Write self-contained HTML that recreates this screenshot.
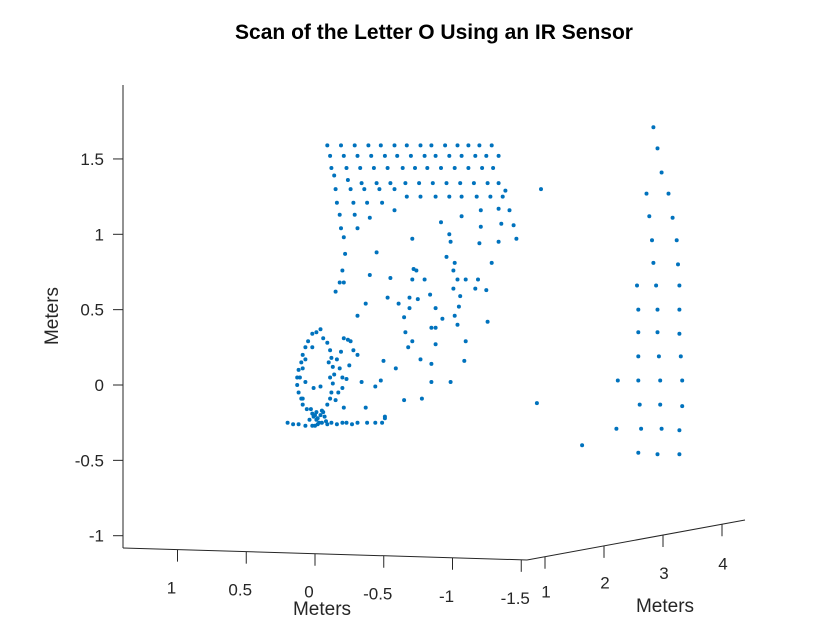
<!DOCTYPE html>
<html><head><meta charset="utf-8"><style>
html,body{margin:0;padding:0;background:#fff;}
svg{display:block;font-family:"Liberation Sans",Arial,sans-serif;}
</style></head><body>
<svg id="chart" width="840" height="630" viewBox="0 0 840 630">
<rect width="840" height="630" fill="#fff"/>
<text x="434" y="39" text-anchor="middle" font-size="21" font-weight="bold" fill="#000">Scan of the Letter O Using an IR Sensor</text>
<g id="axes" stroke="#262626" stroke-width="1" fill="none">
<line x1="123" y1="85" x2="123" y2="548"/>
<line x1="123" y1="548" x2="527" y2="560"/>
<line x1="527" y1="560" x2="745" y2="520"/>
</g>
<g id="ticks"></g>
<g id="points"></g>
<text x="322" y="615" text-anchor="middle" font-size="19" fill="#262626">Meters</text>
<text x="665" y="612" text-anchor="middle" font-size="19" fill="#262626">Meters</text>
<text transform="translate(58,316) rotate(-90)" text-anchor="middle" font-size="19" fill="#262626">Meters</text>
</svg>
<script>
const zTickValues=[1.5,1,0.5,0,-0.5,-1];
const zTickLabels=["1.5","1","0.5","0","-0.5","-1"];
const xTickValues=[1,0.5,0,-0.5,-1,-1.5];
const xTickLabels=["1","0.5","0","-0.5","-1","-1.5"];
const yTickValues=[1,2,3,4];
const yTickLabels=["1","2","3","4"];
// projected scan points: [horizontal (x-axis meters), vertical (meters)]
const gridTop=[[-0.09,1.59],[-0.19,1.59],[-0.29,1.59],[-0.39,1.59],[-0.48,1.59],[-0.58,1.59],[-0.67,1.59],[-0.77,1.59],[-0.85,1.59],[-0.95,1.59],[-1.04,1.59],[-1.12,1.59],[-1.20,1.59],[-1.29,1.59],
[-0.11,1.52],[-0.21,1.52],[-0.31,1.52],[-0.41,1.52],[-0.51,1.52],[-0.60,1.52],[-0.70,1.52],[-0.80,1.52],[-0.88,1.52],[-0.98,1.52],[-1.07,1.52],[-1.17,1.52],[-1.25,1.52],[-1.34,1.52],
[-0.12,1.44],[-0.23,1.44],[-0.33,1.44],[-0.43,1.44],[-0.53,1.44],[-0.64,1.44],[-0.73,1.44],[-0.82,1.44],[-0.92,1.44],[-1.02,1.44],[-1.12,1.44],[-1.22,1.44],[-1.30,1.44],
[-0.14,1.39],[-0.24,1.36],[-0.34,1.34],[-0.45,1.34],[-0.55,1.34],[-0.66,1.34],[-0.76,1.34],[-0.86,1.34],[-0.96,1.34],[-1.06,1.34],[-1.16,1.34],[-1.26,1.34],[-1.34,1.34],
[-0.15,1.30],[-0.26,1.30],[-0.36,1.30],[-0.47,1.30],[-0.58,1.30],[-1.39,1.29],
[-0.67,1.25],[-0.77,1.25],[-0.88,1.25],[-0.98,1.25],[-1.07,1.25],[-1.18,1.25],[-1.28,1.25],[-1.37,1.25],
[-0.16,1.21],[-0.28,1.21],[-0.38,1.21],[-0.49,1.21],[-0.58,1.16],[-0.18,1.13],[-0.29,1.13],[-0.40,1.11]];
const scatterMid=[[-0.92,1.08],[-1.07,1.12],[-1.21,1.16],[-1.34,1.17],[-1.42,1.16],[-1.21,1.05],[-1.36,1.07],[-1.45,1.06],[-0.98,1.00],[-0.99,0.95],[-0.71,0.97],[-1.20,0.94],[-1.34,0.95],[-1.47,0.97],
[-0.21,0.98],[-0.22,0.87],[-0.45,0.88],[-0.19,1.04],[-0.31,1.04],[-0.96,0.85],[-1.02,0.81],[-1.29,0.81],[-0.20,0.76],[-0.18,0.68],[-0.21,0.68],[-0.15,0.62],[-0.40,0.73],[-0.55,0.71],
[-0.72,0.77],[-0.74,0.76],[-0.71,0.70],[-0.80,0.70],[-1.01,0.76],[-1.04,0.70],[-1.10,0.70],[-1.19,0.70],[-1.01,0.64],[-1.17,0.64],[-1.25,0.63],[-0.84,0.60],[-1.06,0.59],[-0.69,0.58],
[-0.75,0.57],[-0.53,0.58],[-0.37,0.54],[-0.61,0.54],[-1.05,0.52],[-0.69,0.51],[-0.88,0.51],[-0.31,0.46],[-0.65,0.45],[-0.93,0.44],[-1.02,0.46],[-1.26,0.42],[-0.85,0.38],[-0.88,0.38],
[-1.04,0.40],[-0.66,0.35],[-1.10,0.29],[-0.71,0.29],[-0.68,0.25],[-0.88,0.27],[-0.77,0.17],[-1.09,0.16],[-0.85,0.14],[-0.50,0.16],[-0.59,0.11],[-0.48,0.03],[-0.44,-0.01],[-0.85,0.02],
[-0.99,0.02],[-0.34,0.02],[-0.65,-0.10],[-0.78,-0.09],[-0.37,-0.15],[-0.21,-0.15],[-0.51,-0.21],[-1.65,1.30],[-1.62,-0.12]];
const letterO=[[-0.04,0.37],[-0.01,0.35],[0.02,0.34],[0.05,0.29],[0.07,0.25],[0.09,0.20],[0.10,0.15],[0.12,0.10],[0.13,0.05],[0.13,0],[0.12,-0.05],[0.10,-0.09],[0.09,-0.13],[0.06,-0.16],
[0.02,-0.19],[-0.01,-0.18],[-0.05,-0.17],[-0.09,-0.13],[-0.11,-0.09],[-0.12,-0.05],[-0.13,0.01],[-0.14,0.07],[-0.13,0.12],[-0.12,0.18],[-0.11,0.23],[-0.09,0.28],[-0.06,0.31],
[-0.21,0.31],[-0.24,0.30],[-0.26,0.29],[-0.28,0.23],[-0.31,0.20],[-0.25,0.13],[-0.23,0.04],[-0.20,-0.02],[-0.17,-0.05],[-0.15,-0.10],[-0.19,0.22],[-0.16,0.17],[-0.18,0.11],[-0.20,0.05],
[0.01,-0.02],[-0.04,-0.01],[0.07,0.02],[-0.11,0.05],[-0.10,0.15],[0.02,0.25],[0.07,0.17],[0.09,0.11],[0.11,0.05],[0.09,-0.09],[-0.02,-0.22],[-0.04,-0.20],[-0.01,-0.23],[-0.07,-0.21],
[0.01,-0.21],[0.04,-0.23],[-0.03,-0.25],[0.00,-0.20],[-0.06,-0.18],[0.03,-0.16],[-0.08,-0.24]];
const baseLine=[[0.20,-0.25],[0.16,-0.26],[0.12,-0.26],[0.07,-0.27],[0.02,-0.27],[0,-0.27],[-0.02,-0.26],[-0.05,-0.25],[-0.09,-0.26],[-0.12,-0.25],[-0.16,-0.26],[-0.20,-0.25],[-0.23,-0.25],
[-0.27,-0.26],[-0.31,-0.25],[-0.38,-0.25],[-0.44,-0.25],[-0.49,-0.25],[-0.51,-0.22]];
const farPlane=[[-2.47,1.71],[-2.50,1.57],[-2.53,1.41],[-2.42,1.27],[-2.58,1.27],[-2.44,1.12],[-2.61,1.11],[-2.46,0.96],[-2.64,0.96],[-2.47,0.81],[-2.65,0.80],
[-2.35,0.66],[-2.49,0.66],[-2.66,0.66],[-2.36,0.50],[-2.50,0.50],[-2.66,0.50],[-2.36,0.35],[-2.50,0.35],[-2.66,0.34],[-2.36,0.19],[-2.51,0.19],[-2.67,0.19],
[-2.21,0.03],[-2.36,0.03],[-2.52,0.03],[-2.68,0.03],[-2.37,-0.13],[-2.52,-0.13],[-2.68,-0.14],[-2.20,-0.29],[-2.38,-0.29],[-2.53,-0.29],[-2.66,-0.30],
[-1.95,-0.40],[-2.36,-0.45],[-2.50,-0.46],[-2.66,-0.46]];

const NS="http://www.w3.org/2000/svg";
function hToPx(h){return 315-h*137;}
function vToPx(v){return 385-v*150.7;}
function xAxisPx(x){return 315-x*137.5;}
function xAxisPy(x){return 548+(xAxisPx(x)-123)*(12/404);}
function yAxisPx(y){return 545+(y-1)*59;}
function yAxisPy(y){return 560-(yAxisPx(y)-527)*(40/218);}

const tg=document.getElementById('ticks');
function line(x1,y1,x2,y2,name){
  const l=document.createElementNS(NS,'line');
  l.setAttribute('x1',x1);l.setAttribute('y1',y1);l.setAttribute('x2',x2);l.setAttribute('y2',y2);
  l.setAttribute('stroke','#262626');l.setAttribute('stroke-width','1');
  
  
  tg.appendChild(l);
}
function label(x,y,t,anchor,name){
  const e=document.createElementNS(NS,'text');
  e.setAttribute('x',x);e.setAttribute('y',y);e.setAttribute('text-anchor',anchor);
  e.setAttribute('font-size','17');e.setAttribute('fill','#262626');
  e.textContent=t;
  
  
  tg.appendChild(e);
}
zTickValues.forEach((v,i)=>{
  const y=vToPx(v);
  line(113,y,123,y,'z-tick');
  label(104,y+6,zTickLabels[i],'end','z-tick-label');
});
xTickValues.forEach((x,i)=>{
  const px=xAxisPx(x),py=xAxisPy(x);
  line(px,py,px,py+12,'x-tick');
  label(px-6,py+44,xTickLabels[i],'middle','x-tick-label');
});
yTickValues.forEach((y,i)=>{
  const px=yAxisPx(y),py=yAxisPy(y);
  line(px,py,px,py+12,'y-tick');
  label(px+1,py+41+i*1.5,yTickLabels[i],'middle','y-tick-label');
});

const pg=document.getElementById('points');
[gridTop,scatterMid,letterO,baseLine,farPlane].forEach(group=>{
  group.forEach(p=>{
    const c=document.createElementNS(NS,'circle');
    c.setAttribute('cx',hToPx(p[0]).toFixed(1));
    c.setAttribute('cy',vToPx(p[1]).toFixed(1));
    c.setAttribute('r','2');
    c.setAttribute('fill','#0072BD');
    
    
    pg.appendChild(c);
  });
});
</script>
</body></html>
